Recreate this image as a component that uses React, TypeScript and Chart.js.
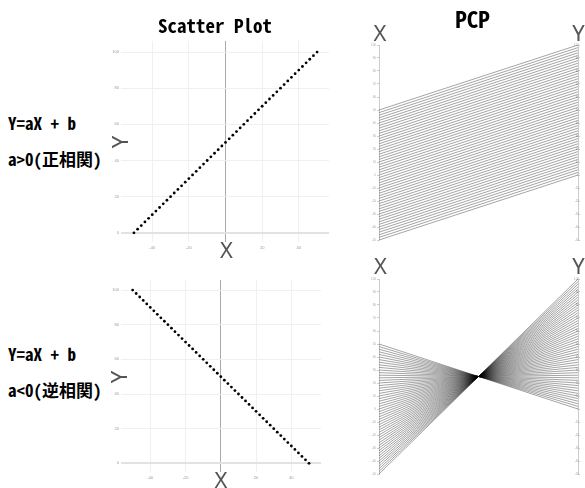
import React, { useEffect, useRef } from "react";
import { Chart, registerables } from "chart.js";
Chart.register(...registerables);

const xValues = [-50, -48, -46, -44, -42, -40, -38, -36, -34, -32, -30, -28, -26, -24, -22, -20, -18, -16, -14, -12, -10, -8, -6, -4, -2, 0, 2, 4, 6, 8, 10, 12, 14, 16, 18, 20, 22, 24, 26, 28, 30, 32, 34, 36, 38, 40, 42, 44, 46, 48, 50];
const yPositive = [0, 2, 4, 6, 8, 10, 12, 14, 16, 18, 20, 22, 24, 26, 28, 30, 32, 34, 36, 38, 40, 42, 44, 46, 48, 50, 52, 54, 56, 58, 60, 62, 64, 66, 68, 70, 72, 74, 76, 78, 80, 82, 84, 86, 88, 90, 92, 94, 96, 98, 100];
const yNegative = [100, 98, 96, 94, 92, 90, 88, 86, 84, 82, 80, 78, 76, 74, 72, 70, 68, 66, 64, 62, 60, 58, 56, 54, 52, 50, 48, 46, 44, 42, 40, 38, 36, 34, 32, 30, 28, 26, 24, 22, 20, 18, 16, 14, 12, 10, 8, 6, 4, 2, 0];

const titles = ["Scatter Plot", "PCP"];
const equationLabel = "Y=aX + b";
const conditionLabels = ["a>0(正相関)", "a<0(逆相関)"];
const axisNames = ["X", "Y"];

const monoFont = '"Noto Sans Mono CJK JP", "Noto Sans CJK JP", "DejaVu Sans Mono", monospace';
const thinFont = '"Noto Sans", "DejaVu Sans", sans-serif';

function scatterConfig(ys: number[], xMin: number, xMax: number, yMin: number, yMax: number): any {
  return {
    type: "scatter",
    data: {
      datasets: [
        {
          data: xValues.map((x, i) => ({ x, y: ys[i] })),
          pointRadius: 1.4,
          pointBackgroundColor: "#000",
          pointBorderWidth: 0,
        },
      ],
    },
    options: {
      animation: false,
      responsive: false,
      events: [],
      plugins: { legend: { display: false }, tooltip: { enabled: false } },
      layout: { padding: { top: 5, right: 3, left: 0, bottom: 0 } },
      scales: {
        x: {
          type: "linear",
          min: xMin,
          max: xMax,
          ticks: { stepSize: 20, includeBounds: false, font: { size: 4 }, color: "#999", padding: 3, maxRotation: 0 },
          grid: {
            color: (c: any) => (c.tick && c.tick.value === 0 ? "#aaa" : "#f0f0f0"),
            lineWidth: 1,
            drawTicks: false,
          },
          border: { display: false },
          afterFit: (s: any) => {
            s.height = 8;
          },
        },
        y: {
          type: "linear",
          min: yMin,
          max: yMax,
          ticks: { stepSize: 20, includeBounds: false, font: { size: 4 }, color: "#999", padding: 2 },
          grid: {
            color: (c: any) => (c.tick && c.tick.value === 0 ? "#e2e2e2" : "#f0f0f0"),
            lineWidth: (c: any) => (c.tick && c.tick.value === 0 ? 2 : 1),
            drawTicks: false,
          },
          border: { display: false },
          afterFit: (s: any) => {
            s.width = 11;
          },
        },
      },
    },
  };
}

function pcpConfig(leftVals: number[], rightVals: number[]): any {
  const axisCommon = {
    type: "linear",
    min: -50,
    max: 100,
    ticks: { stepSize: 10, font: { size: 3 }, color: "#aaa", padding: 1 },
    grid: { display: true, drawOnChartArea: false, tickLength: 2, color: "#ccc" },
    border: { display: true, color: "#ccc", width: 1 },
  };
  return {
    type: "scatter",
    data: {
      datasets: leftVals.map((v, i) => ({
        data: [
          { x: 0, y: v },
          { x: 1, y: rightVals[i] },
        ],
        showLine: true,
        borderColor: "rgba(0,0,0,0.6)",
        borderWidth: 0.6,
        pointRadius: 0,
        yAxisID: "y",
      })),
    },
    options: {
      animation: false,
      responsive: false,
      events: [],
      plugins: { legend: { display: false }, tooltip: { enabled: false } },
      layout: { padding: { top: 5, right: 4, left: 0, bottom: 5 } },
      scales: {
        x: { type: "linear", min: 0, max: 1, display: false },
        y: {
          ...axisCommon,
          position: "left",
          afterFit: (s: any) => {
            s.width = 8;
          },
        },
        y2: {
          ...axisCommon,
          position: "right",
          ticks: { ...axisCommon.ticks, mirror: true },
          afterFit: (s: any) => {
            s.width = 0;
          },
        },
      },
    },
  };
}

function ChartBox(props: { left: number; top: number; width: number; height: number; config: () => any }) {
  const ref = useRef<HTMLCanvasElement>(null);
  useEffect(() => {
    const chart = new Chart(ref.current as HTMLCanvasElement, props.config());
    return () => chart.destroy();
  }, []);
  return (
    <canvas
      ref={ref}
      width={props.width}
      height={props.height}
      style={{ position: "absolute", left: props.left, top: props.top, width: props.width, height: props.height }}
    />
  );
}

function Label(props: {
  x: number;
  y: number;
  text: string;
  size: number;
  weight?: number;
  color?: string;
  font?: string;
  rotate?: boolean;
  alignLeft?: boolean;
}) {
  const tx = props.alignLeft ? "0" : "-50%";
  return (
    <div
      style={{
        position: "absolute",
        left: props.x,
        top: props.y,
        transform: `translate(${tx}, -50%)${props.rotate ? " rotate(-90deg)" : ""}`,
        fontSize: props.size,
        lineHeight: 1,
        fontWeight: props.weight ?? 400,
        color: props.color ?? "#000",
        fontFamily: props.font ?? monoFont,
        whiteSpace: "pre",
      }}
    >
      {props.text}
    </div>
  );
}

export default function App() {
  return (
    <div
      style={{
        position: "fixed",
        left: 0,
        top: 0,
        width: 585,
        height: 488,
        background: "#fff",
        overflow: "hidden",
      }}
    >
      <ChartBox left={110} top={36} width={223} height={214} config={() => scatterConfig(yPositive, -57.07, 56.5, -5.1, 106.1)} />
      <ChartBox left={110} top={275} width={215} height={205} config={() => scatterConfig(yNegative, -56.6, 56.8, -5.0, 105.8)} />
      <ChartBox left={371} top={40} width={211} height={205} config={() => pcpConfig(xValues, yPositive)} />
      <ChartBox left={371} top={274} width={211} height={205} config={() => pcpConfig(xValues, yNegative)} />

      <Label x={215} y={24} text={titles[0]} size={19} weight={700} />
      <Label x={472.5} y={17.5} text={titles[1]} size={23} weight={700} />

      <Label x={8} y={122.3} text={equationLabel} size={17} weight={700} alignLeft />
      <Label x={8} y={158} text={conditionLabels[0]} size={17} weight={700} alignLeft />
      <Label x={8} y={353} text={equationLabel} size={17} weight={700} alignLeft />
      <Label x={8} y={389} text={conditionLabels[1]} size={17} weight={700} alignLeft />

      <Label x={226.5} y={249} text={axisNames[0]} size={22} color="#555" font={thinFont} />
      <Label x={118.5} y={142} text={axisNames[1]} size={22} color="#555" font={thinFont} rotate />
      <Label x={221} y={479} text={axisNames[0]} size={22} color="#555" font={thinFont} />
      <Label x={118} y={377} text={axisNames[1]} size={22} color="#555" font={thinFont} rotate />

      <Label x={380} y={32} text={axisNames[0]} size={22} color="#555" font={thinFont} />
      <Label x={578.5} y={32} text={axisNames[1]} size={22} color="#555" font={thinFont} />
      <Label x={380.5} y={265} text={axisNames[0]} size={22} color="#555" font={thinFont} />
      <Label x={578.5} y={265} text={axisNames[1]} size={22} color="#555" font={thinFont} />
    </div>
  );
}
